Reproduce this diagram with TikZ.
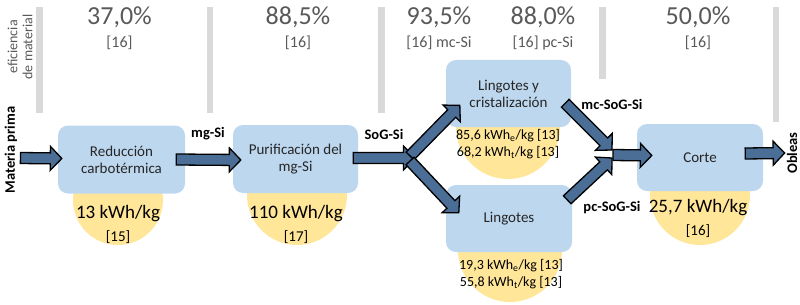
\documentclass[tikz,border=0pt]{standalone}
\usepackage{fontspec}
\setmainfont{Carlito}
\usepackage{tikz}
\usetikzlibrary{calc, positioning}

\definecolor{boxblue}{HTML}{BDD7EE}
\definecolor{kwhyellow}{HTML}{FFE699}
\definecolor{arrowblue}{HTML}{4A6E96}
\definecolor{pctgrey}{HTML}{595959}
\definecolor{bargrey}{HTML}{D9D9D9}

% fat arrow from #1 (tail) to #2 (tip)
\newcommand{\blockarrow}[2]{%
  \draw[blockarr] let \p1=(#1), \p2=(#2),
      \n1={atan2(\y2-\y1,\x2-\x1)}, \n2={veclen(\x2-\x1,\y2-\y1)-11.5pt} in
    (\p1) ++({\n1+90}:5.5pt) -- ++(\n1:\n2) -- ++({\n1+90}:6.5pt) -- (\p2)
    -- ++({\n1-133.78}:16.62pt) -- ++({\n1+90}:6.5pt) -- ++({\n1+180}:\n2) -- cycle;}

\begin{document}
\begin{tikzpicture}[x=1pt, y=-1pt,
every node/.style={inner sep=0pt, align=center},
procbox/.style={rectangle, rounded corners=10pt, fill=boxblue, minimum width=126pt, minimum height=67pt, font=\fontsize{15}{17}\selectfont, text=black!85},
energy/.style={circle, fill=kwhyellow},
kwh/.style={font=\fontsize{19}{23}\selectfont},
kwhsmall/.style={font=\fontsize{14}{17}\selectfont},
pct/.style={font=\fontsize{26}{30}\selectfont, text=pctgrey},
pctref/.style={font=\fontsize{16}{19}\selectfont, text=pctgrey},
flowlabel/.style={font=\bfseries\fontsize{14.5}{17}\selectfont},
bar/.style={fill=bargrey},
blockarr/.style={draw=black, fill=arrowblue, line width=1.3pt, line join=miter}
]
\useasboundingbox (0,0) rectangle (800,305);

% separator bars
\fill[bar] (36,7) rectangle (43,113);
\fill[bar] (207,7) rectangle (213,113);
\fill[bar] (378,7) rectangle (385,113);
\fill[bar] (599,7) rectangle (606,79);
\fill[bar] (773,7) rectangle (779,122);

% material efficiency
\node[text=pctgrey, font=\fontsize{14}{15}\selectfont, rotate=90] (eff) at (20,47) {eficiencia\\de material};
\node[pct] (p1) at (119.5,17) {37,0\%};
\node[pctref] (r1) at (119.5,43) {[16]};
\node[pct] (p2) at (298,17) {88,5\%};
\node[pctref] (r2) at (298,43) {[16]};
\node[pct] (p3) at (439,17) {93,5\%};
\node[pctref] (r3) at (439,43) {[16] mc-Si};
\node[pct] (p4) at (543,17) {88,0\%};
\node[pctref] (r4) at (543,43) {[16] pc-Si};
\node[pct] (p5) at (698,17) {50,0\%};
\node[pctref] (r5) at (698,43) {[16]};

% energy circles (behind the boxes)
\node[energy, minimum size=90pt] (e1) at (118,200) {};
\node[energy, minimum size=100pt] (e2) at (297,195) {};
\node[energy, minimum size=104pt] (e3) at (508,127) {};
\node[energy, minimum size=104pt] (e4) at (510,250) {};
\node[energy, minimum size=100pt] (e5) at (700,195) {};

% process steps
\node[procbox, minimum width=127pt, minimum height=68pt] (red) at (121.5,159.5) {Reducción\\carbotérmica};
\node[procbox, minimum width=125pt, minimum height=68pt] (pur) at (295.5,159) {Purificación del\\mg-Si};
\node[procbox, minimum width=125pt] (ling1) at (508.5,93.5) {Lingotes y\\cristalización};
\node[procbox] (ling2) at (509,218.5) {Lingotes};
\node[procbox] (corte) at (700,157.5) {Corte};

% energy values
\node[kwh] (v1) at (118,224) {13 kWh/kg\\{\fontsize{15}{23}\selectfont [15]}};
\node[kwh] (v2) at (296,224) {110 kWh/kg\\{\fontsize{15}{23}\selectfont [17]}};
\node[kwh] (v5) at (698,218) {25,7 kWh/kg\\{\fontsize{15}{23}\selectfont [16]}};
\node[kwhsmall] (v3) at (508,144) {85,6 kWh\textsubscript{e}/kg [13]\\68,2 kWh\textsubscript{t}/kg [13]};
\node[kwhsmall] (v4) at (511,274) {19,3 kWh\textsubscript{e}/kg [13]\\55,8 kWh\textsubscript{t}/kg [13]};

% flow labels
\node[flowlabel, rotate=90] (mp) at (11,150) {Materia prima};
\node[flowlabel, rotate=90] (obl) at (792,153) {Obleas};
\node[flowlabel] (l1) at (208,134) {mg-Si};
\node[flowlabel] (l2) at (384,134) {SoG-Si};
\node[flowlabel] (l3) at (612,104) {mc-SoG-Si};
\node[flowlabel] (l4) at (612,208) {pc-SoG-Si};

% arrows
\coordinate (split) at (415,158);
\coordinate (merge) at (612,154);
\blockarrow{$(mp.south)+(3,8)$}{$(red.west)+(4,-1)$}
\blockarrow{$(red.east)+(-9,0)$}{$(pur.west)+(8,1)$}
\blockarrow{$(pur.east)+(-5,-1)$}{split}
\blockarrow{$(split)+(-5,-2)$}{$(ling1.south west)+(14,-22)$}
\blockarrow{$(split)+(-5,3)$}{$(ling2.north west)+(13,28)$}
\blockarrow{$(ling1.south east)+(-6,-24)$}{$(merge)+(0,-4)$}
\blockarrow{$(ling2.north east)+(-5,15)$}{$(merge)+(0,4)$}
\blockarrow{$(merge)+(1,1)$}{$(corte.west)+(15,-2)$}
\blockarrow{$(corte.east)+(-18,-4)$}{$(obl.north)+(-2,0)$}
\end{tikzpicture}
\end{document}
